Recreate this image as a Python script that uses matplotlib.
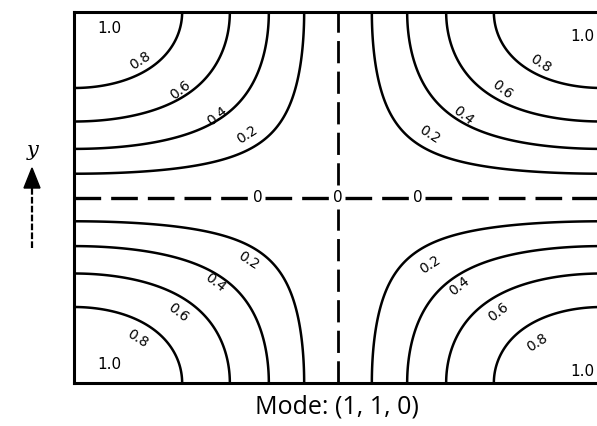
import numpy as np
import matplotlib.pyplot as plt

# contour levels of the normalised field |cos(pi x) cos(pi y)|
levels = [0.2, 0.4, 0.6, 0.8]
level_labels = ["0.2", "0.4", "0.6", "0.8"]
zero_label = "0"
corner_label = "1.0"
mode = (1, 1, 0)

# label anchor points (axes fraction) and rotation for each quadrant, ordered by level
tl_pos = [(0.328, 0.67), (0.272, 0.72), (0.202, 0.79), (0.126, 0.87)]
tr_pos = [(0.674, 0.67), (0.738, 0.72), (0.811, 0.79), (0.883, 0.86)]
bl_pos = [(0.330, 0.33), (0.267, 0.27), (0.197, 0.19), (0.121, 0.12)]
br_pos = [(0.674, 0.32), (0.730, 0.26), (0.803, 0.19), (0.877, 0.11)]
rot = [33, 38, 38, 33]
corner_left = [(0.044, 0.955), (0.044, 0.05)]
corner_right = [(0.986, 0.935), (0.986, 0.03)]
zero_x = [0.348, 0.5, 0.652]

W, H = 597, 426
fig = plt.figure(figsize=(W / 100, H / 100), dpi=100)
# the frame runs past the right edge of the figure
ax = fig.add_axes([74 / W, 43 / H, 528 / W, 371 / H])

x = np.linspace(0, 1, 400)
y = np.linspace(0, 1, 400)
X, Y = np.meshgrid(x, y)
Z = np.abs(np.cos(mode[0] * np.pi * X) * np.cos(mode[1] * np.pi * Y))
ax.contour(X, Y, Z, levels=levels, colors="black", linewidths=1.8)

# nodal lines, dashed
dash = (0, (8, 3))
for x0, x1 in [(0, 0.337), (0.362, 0.488), (0.513, 0.638), (0.665, 1.0)]:
    ax.plot([x0, x1], [0.5, 0.5], color="black", lw=2.4, linestyle=dash)
for y0, y1 in [(0, 0.47), (0.535, 1.0)]:
    ax.plot([0.5, 0.5], [y0, y1], color="black", lw=2.0, linestyle=dash)
for zx in zero_x:
    ax.text(zx, 0.5, zero_label, ha="center", va="center", fontsize=11,
            fontfamily="DejaVu Sans")

lab_kw = dict(ha="center", va="center", fontsize=10, fontfamily="DejaVu Sans")
for i, s in enumerate(level_labels):
    ax.text(tl_pos[i][0], tl_pos[i][1], s, rotation=rot[i], **lab_kw)
    ax.text(tr_pos[i][0], tr_pos[i][1], s, rotation=-rot[i], **lab_kw)
    ax.text(bl_pos[i][0], bl_pos[i][1], s, rotation=-rot[i], **lab_kw)
    ax.text(br_pos[i][0], br_pos[i][1], s, rotation=rot[i], **lab_kw)

for cx, cy in corner_left:
    ax.text(cx, cy, corner_label, ha="left", va="center", fontsize=11,
            fontfamily="DejaVu Sans")
for cx, cy in corner_right:
    ax.text(cx, cy, corner_label, ha="right", va="center", fontsize=11,
            fontfamily="DejaVu Sans")

ax.set_xlim(0, 1)
ax.set_ylim(0, 1)
ax.set_xticks([])
ax.set_yticks([])
for sp in ax.spines.values():
    sp.set_linewidth(2.2)

# y direction marker on the left
fig.text(33 / W, 1 - 150 / H, "y", ha="center", va="center", fontsize=15,
         fontfamily="DejaVu Serif", style="italic")
fig.add_artist(plt.Line2D([32 / W, 32 / W], [1 - 248 / H, 1 - 185 / H],
                          color="black", lw=1.6, linestyle=(0, (3, 1))))
fig.add_artist(plt.Polygon([[24 / W, 1 - 188 / H], [40 / W, 1 - 188 / H],
                            [32 / W, 1 - 168 / H]], color="black"))

fig.text(337 / W, 1 - 407 / H, "Mode: (%d, %d, %d)" % mode, ha="center",
         va="center", fontsize=18, fontfamily="Open Sans")

fig.savefig("out.png", dpi=100)
